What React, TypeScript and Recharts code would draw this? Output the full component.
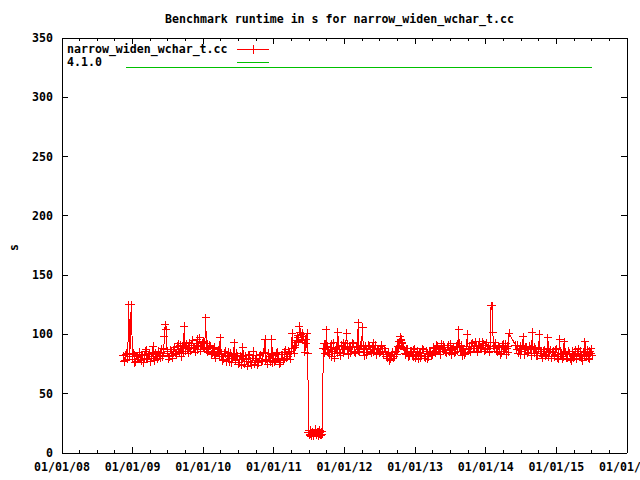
import React from 'react';
import { LineChart, Line, XAxis, YAxis } from 'recharts';

// benchmark dates as decimal years, with runtimes in seconds
const runDates = [
  2008.870, 2008.880, 2008.890, 2008.903, 2008.915, 2008.930, 2008.945, 2008.960, 2008.980, 2009.000, 2009.010, 2009.020, 2009.032, 2009.045, 2009.057, 2009.070, 2009.082,
  2009.095, 2009.107, 2009.120, 2009.130, 2009.140, 2009.152, 2009.165, 2009.177, 2009.190, 2009.202, 2009.215, 2009.227, 2009.240, 2009.252, 2009.265, 2009.277, 2009.290, 2009.302, 2009.315, 2009.327,
  2009.340, 2009.352, 2009.365, 2009.377, 2009.390, 2009.400, 2009.410, 2009.420, 2009.430, 2009.440, 2009.450, 2009.460, 2009.475, 2009.488, 2009.500, 2009.512, 2009.525, 2009.537,
  2009.550, 2009.560, 2009.570, 2009.582, 2009.595, 2009.607, 2009.620, 2009.632, 2009.645, 2009.655, 2009.665, 2009.677, 2009.690, 2009.700, 2009.710, 2009.720, 2009.730, 2009.742, 2009.755, 2009.767,
  2009.780, 2009.790, 2009.800, 2009.812, 2009.825, 2009.837, 2009.850, 2009.862, 2009.875, 2009.887, 2009.900, 2009.912, 2009.925, 2009.937, 2009.950, 2009.962, 2009.975, 2009.987, 2010.000, 2010.010,
  2010.020, 2010.035, 2010.045, 2010.055, 2010.067, 2010.080, 2010.092, 2010.105, 2010.117, 2010.130, 2010.142, 2010.155, 2010.167, 2010.180, 2010.195, 2010.210, 2010.225, 2010.240, 2010.252,
  2010.265, 2010.277, 2010.290, 2010.302, 2010.315, 2010.327, 2010.340, 2010.352, 2010.365, 2010.377, 2010.390, 2010.402, 2010.415, 2010.427, 2010.440, 2010.450, 2010.460, 2010.472, 2010.485, 2010.497,
  2010.510, 2010.522, 2010.535, 2010.547, 2010.560, 2010.572, 2010.585, 2010.597, 2010.610, 2010.622, 2010.635, 2010.647, 2010.660, 2010.672, 2010.685, 2010.697, 2010.710, 2010.722, 2010.735, 2010.747,
  2010.760, 2010.772, 2010.785, 2010.797, 2010.810, 2010.822, 2010.835, 2010.847, 2010.860, 2010.875, 2010.887, 2010.900, 2010.912, 2010.925, 2010.937, 2010.950, 2010.960, 2010.970, 2010.982,
  2010.995, 2011.007, 2011.020, 2011.032, 2011.045, 2011.057, 2011.070, 2011.082, 2011.095, 2011.107, 2011.120, 2011.132, 2011.145, 2011.157, 2011.170, 2011.182, 2011.195, 2011.207, 2011.220, 2011.232,
  2011.245, 2011.260, 2011.272, 2011.285, 2011.295, 2011.305, 2011.315, 2011.325, 2011.335, 2011.345, 2011.352, 2011.360, 2011.370, 2011.380, 2011.390, 2011.400, 2011.410, 2011.420, 2011.430,
  2011.440, 2011.450, 2011.460, 2011.470, 2011.480, 2011.490, 2011.497, 2011.505, 2011.512, 2011.520, 2011.527, 2011.535, 2011.542, 2011.550, 2011.557, 2011.565, 2011.572, 2011.580, 2011.587,
  2011.595, 2011.602, 2011.610, 2011.617, 2011.625, 2011.632, 2011.640, 2011.647, 2011.655, 2011.662, 2011.670, 2011.677, 2011.685, 2011.700, 2011.710, 2011.720, 2011.732, 2011.745, 2011.755,
  2011.765, 2011.775, 2011.785, 2011.797, 2011.810, 2011.822, 2011.835, 2011.847, 2011.860, 2011.872, 2011.885, 2011.895, 2011.905, 2011.917, 2011.930, 2011.942, 2011.955, 2011.967, 2011.980, 2011.992,
  2012.005, 2012.017, 2012.030, 2012.042, 2012.055, 2012.067, 2012.080, 2012.092, 2012.105, 2012.117, 2012.130, 2012.142, 2012.155, 2012.167, 2012.180, 2012.195, 2012.205, 2012.215, 2012.228,
  2012.240, 2012.255, 2012.267, 2012.280, 2012.292, 2012.305, 2012.317, 2012.330, 2012.342, 2012.355, 2012.367, 2012.380, 2012.392, 2012.405, 2012.417, 2012.430, 2012.442, 2012.455, 2012.467,
  2012.480, 2012.492, 2012.505, 2012.517, 2012.530, 2012.542, 2012.555, 2012.567, 2012.580, 2012.592, 2012.605, 2012.617, 2012.630, 2012.642, 2012.655, 2012.667, 2012.680, 2012.692, 2012.705, 2012.717,
  2012.730, 2012.742, 2012.755, 2012.765, 2012.775, 2012.782, 2012.790, 2012.797, 2012.805, 2012.812, 2012.820, 2012.832, 2012.845, 2012.857, 2012.870, 2012.882, 2012.895, 2012.907, 2012.920, 2012.932,
  2012.945, 2012.957, 2012.970, 2012.982, 2012.995, 2013.007, 2013.020, 2013.032, 2013.045, 2013.057, 2013.070, 2013.082, 2013.095, 2013.107, 2013.120, 2013.132, 2013.145, 2013.157, 2013.170, 2013.182,
  2013.195, 2013.207, 2013.220, 2013.232, 2013.245, 2013.257, 2013.270, 2013.282, 2013.295, 2013.307, 2013.320, 2013.332, 2013.345, 2013.357, 2013.370, 2013.382, 2013.395, 2013.407, 2013.420, 2013.432,
  2013.445, 2013.457, 2013.470, 2013.482, 2013.495, 2013.507, 2013.520, 2013.532, 2013.545, 2013.557, 2013.570, 2013.582, 2013.595, 2013.605, 2013.615, 2013.627, 2013.640, 2013.652, 2013.665, 2013.677,
  2013.690, 2013.702, 2013.715, 2013.727, 2013.740, 2013.752, 2013.765, 2013.777, 2013.790, 2013.802, 2013.815, 2013.827, 2013.840, 2013.852, 2013.865, 2013.877, 2013.890, 2013.902, 2013.915, 2013.927,
  2013.940, 2013.952, 2013.965, 2013.977, 2013.990, 2014.002, 2014.015, 2014.027, 2014.040, 2014.050, 2014.060, 2014.075, 2014.090, 2014.100, 2014.110, 2014.120, 2014.132,
  2014.145, 2014.157, 2014.170, 2014.182, 2014.195, 2014.207, 2014.220, 2014.232, 2014.245, 2014.257, 2014.270, 2014.280, 2014.290, 2014.300, 2014.310, 2014.320, 2014.330, 2014.420,
  2014.440, 2014.450, 2014.460, 2014.472, 2014.485, 2014.497, 2014.510, 2014.520, 2014.530, 2014.542, 2014.555, 2014.567, 2014.580, 2014.592, 2014.605, 2014.617, 2014.630, 2014.645, 2014.660, 2014.672,
  2014.685, 2014.697, 2014.710, 2014.722, 2014.735, 2014.747, 2014.760, 2014.772, 2014.785, 2014.797, 2014.810, 2014.822, 2014.835, 2014.847, 2014.860, 2014.870, 2014.880, 2014.892, 2014.905, 2014.917,
  2014.930, 2014.942, 2014.955, 2014.967, 2014.980, 2014.992, 2015.005, 2015.017, 2015.030, 2015.045, 2015.057, 2015.070, 2015.082, 2015.095, 2015.110, 2015.122, 2015.135, 2015.147,
  2015.160, 2015.172, 2015.185, 2015.197, 2015.210, 2015.222, 2015.235, 2015.247, 2015.260, 2015.272, 2015.285, 2015.297, 2015.310, 2015.322, 2015.335, 2015.347, 2015.360, 2015.372, 2015.385, 2015.397,
  2015.405, 2015.415, 2015.425, 2015.435, 2015.445, 2015.455, 2015.465, 2015.475, 2015.485, 2015.495, 2015.505,
];

const runTimes = [
  82, 77, 78, 83, 84, 79, 125, 81, 125, 79, 84, 83, 76, 77, 82, 81, 79,
  85, 79, 78, 83, 82, 76, 80, 86, 87, 80, 79, 83, 84, 77, 81, 85, 90, 80, 78, 84,
  83, 79, 86, 82, 80, 85, 88, 81, 82, 87, 98, 108, 104, 86, 84, 79, 81, 87,
  86, 82, 80, 87, 89, 84, 83, 90, 92, 86, 85, 91, 81, 88, 90, 84, 107, 89, 86, 92,
  88, 84, 93, 89, 86, 91, 95, 88, 89, 85, 92, 96, 87, 91, 97, 86, 90, 93, 94, 89,
  88, 114, 87, 92, 85, 86, 91, 90, 83, 84, 88, 89, 80, 82, 86, 87, 81, 97, 84,
  83, 78, 79, 84, 86, 77, 81, 85, 77, 82, 84, 76, 80, 83, 93, 79, 78, 84, 82, 75,
  76, 82, 81, 74, 89, 80, 75, 82, 79, 73, 77, 83, 82, 76, 74, 80, 86, 75, 78, 82,
  80, 74, 76, 82, 83, 77, 78, 84, 85, 96, 78, 79, 75, 84, 81, 77, 83, 96, 76,
  82, 77, 78, 84, 85, 79, 80, 75, 76, 83, 83, 78, 79, 85, 87, 80, 81, 86, 84, 79,
  86, 101, 88, 84, 91, 89, 95, 93, 99, 97, 94, 107, 102, 100, 96, 95, 101, 98, 93,
  85, 96, 92, 101, 84, 17, 19, 15, 16, 19, 14, 16, 18, 18, 15, 14, 17, 17, 20,
  19, 16, 15, 18, 18, 14, 16, 19, 17, 15, 15, 18, 16, 88, 92, 84, 87, 104, 85,
  90, 85, 83, 89, 92, 81, 86, 93, 80, 87, 89, 84, 102, 90, 85, 82, 91, 87, 84, 93,
  87, 92, 101, 88, 83, 89, 90, 84, 86, 93, 92, 85, 84, 90, 89, 110, 86, 85, 91,
  91, 106, 87, 82, 90, 88, 83, 85, 91, 90, 86, 84, 89, 93, 85, 87, 91, 83, 88,
  88, 84, 85, 90, 91, 86, 83, 88, 86, 81, 80, 85, 84, 78, 79, 83, 85, 80, 81, 86,
  86, 83, 90, 88, 94, 91, 98, 95, 96, 93, 92, 89, 87, 84, 83, 88, 88, 81, 82, 86,
  86, 82, 81, 87, 88, 80, 83, 86, 79, 84, 85, 80, 82, 88, 87, 81, 80, 86, 84, 79,
  81, 85, 86, 82, 83, 89, 88, 84, 85, 91, 90, 86, 87, 83, 92, 88, 86, 91, 89, 85,
  84, 89, 91, 85, 87, 92, 83, 88, 89, 84, 85, 90, 92, 86, 104, 89, 86, 91, 82, 87,
  88, 83, 84, 90, 100, 87, 90, 85, 86, 92, 93, 88, 88, 94, 91, 86, 85, 90, 94, 88,
  89, 94, 92, 86, 87, 91, 93, 88, 90, 85, 86, 124, 124, 102, 90, 88, 93,
  91, 86, 85, 90, 89, 83, 84, 91, 92, 86, 87, 92, 83, 88, 90, 85, 101, 91,
  87, 91, 84, 88, 90, 83, 86, 91, 98, 87, 83, 89, 89, 84, 85, 90, 88, 82, 102, 87,
  84, 89, 88, 82, 82, 87, 100, 84, 86, 80, 81, 86, 87, 82, 83, 88, 97, 81, 85, 87,
  80, 85, 86, 81, 82, 87, 88, 80, 79, 96, 83, 84, 79, 81, 94, 86, 85, 80,
  80, 86, 84, 79, 78, 83, 86, 80, 82, 87, 79, 84, 88, 81, 83, 86, 80, 78, 85, 82,
  94, 86, 81, 85, 87, 80, 79, 86, 84, 88, 82,
];

// 4.1.0 reference line
const baselineDates = [2008.905, 2015.507];
const baselineTimes = [325, 325];

const xTicks = [
  2008, 2008.25, 2008.5, 2008.75, 2009, 2009.25, 2009.5, 2009.75,
  2010, 2010.25, 2010.5, 2010.75, 2011, 2011.25, 2011.5, 2011.75,
  2012, 2012.25, 2012.5, 2012.75, 2013, 2013.25, 2013.5, 2013.75,
  2014, 2014.25, 2014.5, 2014.75, 2015, 2015.25, 2015.5, 2015.75, 2016,
];
const yTicks = [0, 50, 100, 150, 200, 250, 300, 350];

const runData = runDates.map((d, i) => ({ date: d, value: runTimes[i] }));
const baselineData = baselineDates.map((d, i) => ({ date: d, value: baselineTimes[i] }));

const FONT = '"DejaVu Sans Mono", monospace';

const fmtDate = (v: number) => '01/01/' + String(Math.round(v) % 100).padStart(2, '0');

const Cross = (props: any) => {
  const { cx, cy } = props;
  if (cx == null || cy == null) return null;
  return (
    <path
      d={`M${cx - 4},${cy}h8M${cx},${cy - 4}v8`}
      stroke="#ff0000"
      strokeWidth={1}
      shapeRendering="crispEdges"
      fill="none"
    />
  );
};

const BottomTick = (props: any) => {
  const { x, y, payload } = props;
  const major = Number.isInteger(payload.value);
  return (
    <g>
      <line x1={x} x2={x} y1={y} y2={y - (major ? 6 : 3)} stroke="#000" shapeRendering="crispEdges" />
      {major && (
        <text x={x} y={y + 14} textAnchor="middle" dominantBaseline="central" fill="#000" fontWeight="bold">
          {fmtDate(payload.value)}
        </text>
      )}
    </g>
  );
};

const TopTick = (props: any) => {
  const { x, y, payload } = props;
  const major = Number.isInteger(payload.value);
  return <line x1={x} x2={x} y1={y} y2={y + (major ? 6 : 3)} stroke="#000" shapeRendering="crispEdges" />;
};

const LeftTick = (props: any) => {
  const { x, y, payload } = props;
  return (
    <g>
      <line x1={x} x2={x + 6} y1={y} y2={y} stroke="#000" shapeRendering="crispEdges" />
      <text x={x - 9} y={y} textAnchor="end" dominantBaseline="central" fill="#000" fontWeight="bold">
        {payload.value}
      </text>
    </g>
  );
};

const RightTick = (props: any) => {
  const { x, y } = props;
  return <line x1={x - 6} x2={x} y1={y} y2={y} stroke="#000" shapeRendering="crispEdges" />;
};

const textStyle: React.CSSProperties = {
  position: 'absolute',
  fontFamily: FONT,
  fontSize: 11.6,
  fontWeight: 'bold',
  color: '#000',
  whiteSpace: 'pre',
  lineHeight: '13px',
};

export default function App() {
  return (
    <div style={{ position: 'absolute', left: 0, top: 0, width: 640, height: 480, background: '#fff' }}>
      <LineChart
        width={640}
        height={480}
        margin={{ top: 30, right: 0, bottom: 0, left: 12 }}
        style={{ fontFamily: FONT, fontSize: 11.6 }}
      >
        <XAxis
          xAxisId="bottom"
          type="number"
          dataKey="date"
          domain={[2008, 2016]}
          ticks={xTicks}
          interval={0}
          allowDataOverflow
          height={27}
          tickSize={0}
          tickMargin={0}
          tick={<BottomTick />}
          axisLine={{ stroke: '#000', shapeRendering: 'crispEdges' }}
        />
        <XAxis
          xAxisId="top"
          orientation="top"
          type="number"
          dataKey="date"
          domain={[2008, 2016]}
          ticks={xTicks}
          interval={0}
          allowDataOverflow
          height={8}
          tickSize={0}
          tickMargin={0}
          tick={<TopTick />}
          axisLine={{ stroke: '#000', shapeRendering: 'crispEdges' }}
        />
        <YAxis
          yAxisId="left"
          domain={[0, 350]}
          ticks={yTicks}
          interval={0}
          allowDataOverflow
          width={50}
          tickSize={0}
          tickMargin={0}
          tick={<LeftTick />}
          axisLine={{ stroke: '#000', shapeRendering: 'crispEdges' }}
        />
        <YAxis
          yAxisId="right"
          orientation="right"
          domain={[0, 350]}
          ticks={yTicks}
          interval={0}
          allowDataOverflow
          width={13}
          tickSize={0}
          tickMargin={0}
          tick={<RightTick />}
          axisLine={{ stroke: '#000', shapeRendering: 'crispEdges' }}
        />
        <Line
          data={baselineData}
          xAxisId="bottom"
          yAxisId="left"
          dataKey="value"
          stroke="#00c000"
          strokeWidth={1}
          shapeRendering="crispEdges"
          dot={false}
          isAnimationActive={false}
        />
        <Line
          data={runData}
          xAxisId="bottom"
          yAxisId="left"
          dataKey="value"
          stroke="#ff0000"
          strokeWidth={1}
          shapeRendering="crispEdges"
          dot={<Cross />}
          activeDot={false}
          isAnimationActive={false}
        />
      </LineChart>

      <div style={{ ...textStyle, left: 165, top: 13 }}>Benchmark runtime in s for narrow_widen_wchar_t.cc</div>
      <div style={{ ...textStyle, left: 10.5, top: 240.5, transform: 'rotate(-90deg)' }}>s</div>

      <div style={{ ...textStyle, left: 67, top: 43 }}>narrow_widen_wchar_t.cc</div>
      <div style={{ ...textStyle, left: 67, top: 56 }}>4.1.0</div>
      <svg style={{ position: 'absolute', left: 0, top: 0 }} width={640} height={80}>
        <line x1={237} x2={269} y1={49.5} y2={49.5} stroke="#ff0000" shapeRendering="crispEdges" />
        <line x1={253.5} x2={253.5} y1={45} y2={54} stroke="#ff0000" shapeRendering="crispEdges" />
        <line x1={237} x2={269} y1={62.5} y2={62.5} stroke="#00c000" shapeRendering="crispEdges" />
      </svg>
    </div>
  );
}
